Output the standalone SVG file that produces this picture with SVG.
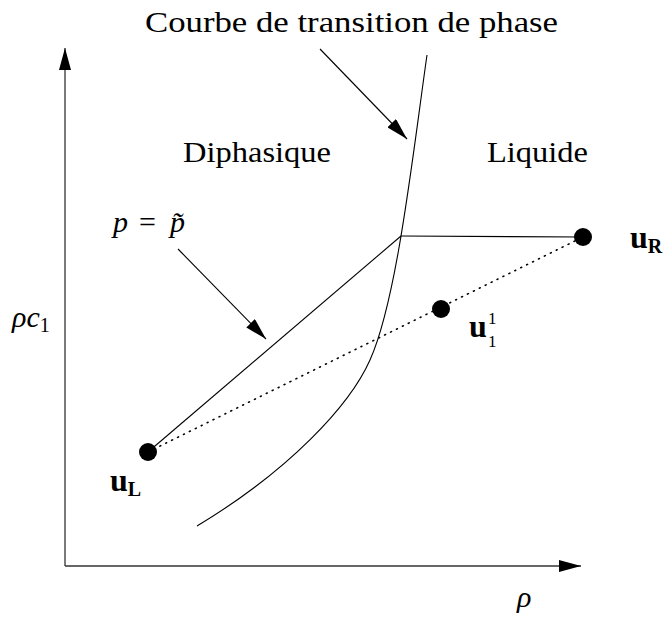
<svg xmlns="http://www.w3.org/2000/svg" width="668" height="622" viewBox="0 0 668 622" font-family="'Liberation Serif','DejaVu Serif','Noto Serif',serif">
<style>
text{font-family:'Liberation Serif','DejaVu Serif','Noto Serif',serif;fill:#000}
.lbl{font-size:30px}
.it{font-style:italic}
.bf{font-weight:bold}
.sub{font-size:20px}
.ss{font-size:17px;font-weight:normal}
.ln{fill:none;stroke:#000;stroke-width:1.1}
.ax{fill:none;stroke:#333;stroke-width:1.3}
.dot{fill:#000}
.dotted{fill:none;stroke:#000;stroke-width:1.6;stroke-dasharray:1 5.6;stroke-linecap:round}
</style>
<defs>
<marker id="ah" viewBox="0 0 22 12" refX="22" refY="6" markerWidth="22" markerHeight="12" markerUnits="userSpaceOnUse" orient="auto">
<path d="M0,0 L22,6 L0,12 z" fill="#000"/>
</marker>
</defs>
<rect width="668" height="622" fill="#fff"/>
<g id="axes">
<line class="ax" x1="65" y1="566" x2="65" y2="48" marker-end="url(#ah)"/>
<line class="ax" x1="65" y1="566" x2="581" y2="566" marker-end="url(#ah)"/>
<text class="lbl it" x="12" y="327">ρc<tspan class="sub" font-style="normal" dy="5">1</tspan></text>
<text class="lbl it" x="517" y="607">ρ</text>
</g>
<g id="phase-curve">
<path class="ln" d="M427,55 C412.7,155 397,300 370,360 C350,405 290,470 197,526"/>
</g>
<g id="region-labels">
<text class="lbl" x="183" y="162" textLength="148" lengthAdjust="spacingAndGlyphs">Diphasique</text>
<text class="lbl" x="487" y="162" textLength="101" lengthAdjust="spacingAndGlyphs">Liquide</text>
</g>
<g id="title">
<text class="lbl" x="145" y="32" textLength="413" lengthAdjust="spacingAndGlyphs">Courbe de transition de phase</text>
</g>
<g id="p-label">
<text class="lbl" y="232" font-size="31"><tspan class="it" x="113">p</tspan><tspan x="139">=</tspan><tspan class="it" x="170">p̃</tspan></text>
</g>
<g id="connectors">
<line class="ln" x1="148" y1="452" x2="401" y2="236"/>
<line class="ln" x1="401" y1="236" x2="583" y2="237"/>
<line class="dotted" x1="148" y1="452" x2="583" y2="237"/>
<line class="ln" x1="320" y1="49" x2="407" y2="139" marker-end="url(#ah)"/>
<line class="ln" x1="178" y1="249" x2="266" y2="339" marker-end="url(#ah)"/>
</g>
<g id="uL">
<circle class="dot" cx="148" cy="452" r="9"/>
<text class="bf" font-size="32" x="110" y="491">u<tspan class="sub" dy="5">L</tspan></text>
</g>
<g id="u11">
<circle class="dot" cx="441" cy="309" r="9"/>
<text class="bf" font-size="32" x="469" y="337">u<tspan class="ss" x="488" dy="-13">1</tspan><tspan class="ss" x="488" dy="23">1</tspan></text>
</g>
<g id="uR">
<circle class="dot" cx="583" cy="237" r="9"/>
<text class="bf" font-size="32" x="630" y="248">u<tspan class="sub" dy="5">R</tspan></text>
</g>
</svg>
